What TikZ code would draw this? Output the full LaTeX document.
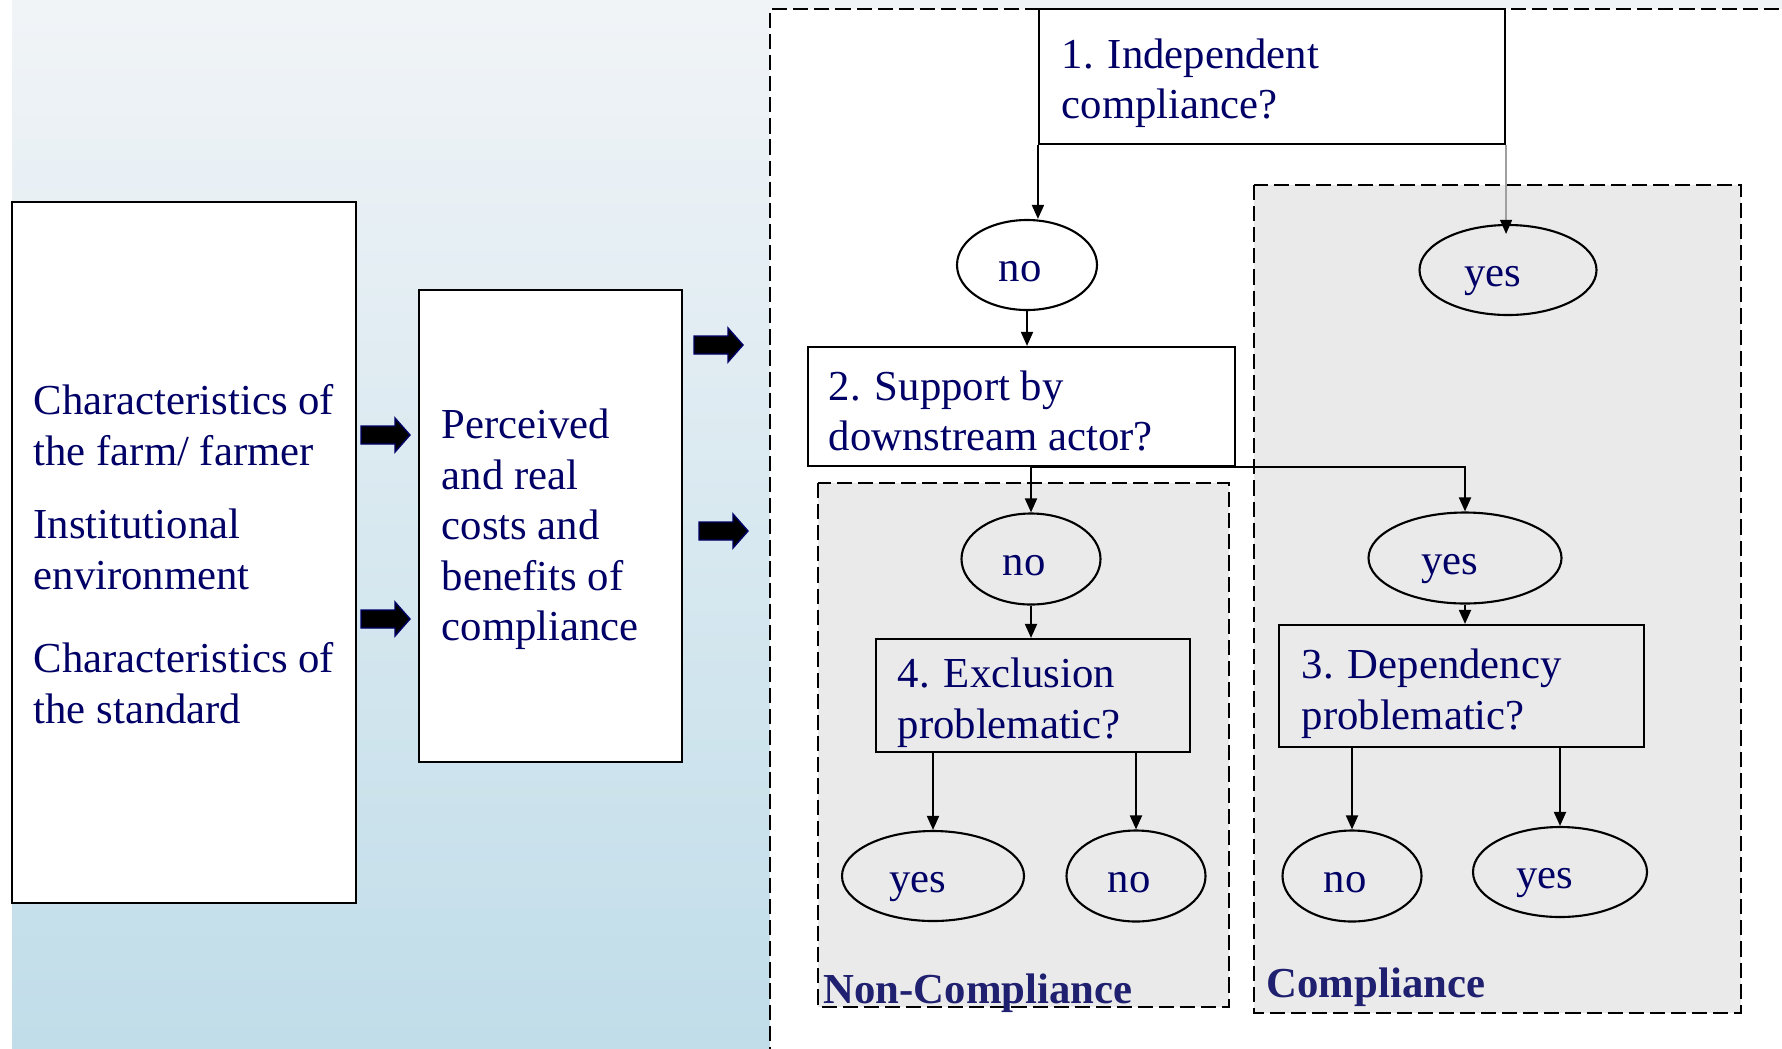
\documentclass[tikz,border=0pt]{standalone}
\usepackage{fontspec}
\setmainfont{Liberation Serif}
\usetikzlibrary{shapes.geometric,arrows.meta,calc}
\definecolor{navy}{RGB}{0,0,102}
\definecolor{lblnavy}{RGB}{32,32,112}
\definecolor{bgtop}{RGB}{241,244,247}
\definecolor{bgbot}{RGB}{192,221,233}
\definecolor{hatch}{RGB}{234,234,234}
\definecolor{thinline}{RGB}{160,160,160}
\newdimen\upx
\upx=0.01cm
\newcommand{\noans}{no\hspace*{14\upx}}
\newcommand{\yesans}{yes\hspace*{30\upx}}
\begin{document}
\begin{tikzpicture}[x=0.01cm,y=-0.01cm,
  txt/.style={font=\fontsize{12.15pt}{14.4pt}\selectfont, text=navy, align=left, anchor=north west, inner sep=0pt},
  boxed/.style={draw=black, line width=0.6pt, fill=white, inner sep=0pt},
  openbox/.style={draw=black, line width=0.6pt, inner sep=0pt},
  ell/.style={ellipse, draw=black, line width=0.6pt, inner sep=0pt, text height=9.5pt, text depth=0pt, font=\fontsize{12.15pt}{14.4pt}\selectfont, text=navy},
  arr/.style={line width=0.6pt, -{Triangle[length=4pt,width=3.4pt,color=black]}},
  zone/.style={draw=black, line width=0.6pt, dash pattern=on 4.3pt off 1.7pt},
  lbl/.style={font=\fontsize{12.15pt}{14.4pt}\selectfont\bfseries, text=lblnavy, anchor=base west, inner sep=0pt},
  blockarrow/.style={fill=black, draw=navy, line width=0.4pt},
  blk/.pic={\filldraw[blockarrow] (0,-9) -- (34,-9) -- (34,-17) -- (49,0) -- (34,17) -- (34,9) -- (0,9) -- cycle;}
]
\useasboundingbox (0,0) rectangle (1782,1048);
% background
\shade[top color=bgtop, bottom color=bgbot] (12,0) rectangle (1782,1048);
\fill[white] (770,9) rectangle (1800,1060);
\draw[zone] (1800,9) -- (770,9) -- (770,1060);
% zones
\draw[zone, fill=hatch] (818,483) rectangle (1229,1007);
\draw[zone, fill=hatch] (1254,185) rectangle (1741,1013);
% left boxes
\node[boxed, minimum width=344\upx, minimum height=701\upx] (left) at (184,552.5) {};
\node[boxed, minimum width=263\upx, minimum height=472\upx] (mid) at (550.5,526) {};
\node[txt] (t1a) at (33,384) {Characteristics of\\the farm/ farmer};
\node[txt] (t1b) at (33,508) {Institutional\\environment};
\node[txt] (t1c) at (33,642) {Characteristics of\\the standard};
\node[txt] (t2) at (441,408) {Perceived\\and real\\costs and\\benefits of\\compliance};
% block arrows
\pic at (361,435) {blk};
\pic at (361,619) {blk};
\pic at (694,345) {blk};
\pic at (699,531) {blk};
% question boxes
\node[boxed, minimum width=466\upx, minimum height=135\upx] (box1) at (1272,76.5) {};
\node[boxed, minimum width=427\upx, minimum height=119\upx] (box2) at (1021.5,406.5) {};
\node[openbox, minimum width=314\upx, minimum height=113\upx] (box4) at (1033,695.5) {};
\node[openbox, minimum width=365\upx, minimum height=122\upx] (box3) at (1461.5,686) {};
\node[txt] (q1t) at (1061,38) {1. Independent\\compliance?};
\node[txt] (q2t) at (828,370) {2. Support by\\downstream actor?};
\node[txt] (q4t) at (897,657) {4. Exclusion\\problematic?};
\node[txt] (q3t) at (1301,648) {3. Dependency\\problematic?};
% answers
\node[ell, minimum width=140\upx, minimum height=90\upx] (no1) at (1027,265) {\noans};
\node[ell, minimum width=177\upx, minimum height=90\upx] (yes1) at (1508,270) {\yesans};
\node[ell, minimum width=139\upx, minimum height=91\upx] (no2) at (1031,559) {\noans};
\node[ell, minimum width=193\upx, minimum height=91\upx] (yes2) at (1465,558) {\yesans};
\node[ell, minimum width=182\upx, minimum height=90\upx] (yes3) at (933,876) {\yesans};
\node[ell, minimum width=139\upx, minimum height=91\upx] (no3) at (1136,876) {\noans};
\node[ell, minimum width=139\upx, minimum height=91\upx] (no4) at (1352,876) {\noans};
\node[ell, minimum width=174\upx, minimum height=90\upx] (yes4) at (1560,872) {\yesans};
% connectors
\draw[arr] (box1.south west) -- (box1.south west |- no1.north);
\draw[arr, draw=thinline, line width=0.4pt] (box1.south east) -- ($(box1.south east |- yes1.north)+(0,10)$);
\draw[arr] (no1.south) -- (no1.south |- box2.north);
\draw[arr] (no2.north |- box2.south) -- (no2.north);
\draw[arr] (no2.north |- box2.south) -| (yes2.north);
\draw[arr] (no2.south) -- (no2.south |- box4.north);
\draw[arr] (yes2.south) -- (yes2.south |- box3.north);
\draw[arr] (yes3.north |- box4.south) -- (yes3.north);
\draw[arr] (no3.north |- box4.south) -- (no3.north);
\draw[arr] (no4.north |- box3.south) -- (no4.north);
\draw[arr] (yes4.north |- box3.south) -- (yes4.north);
% zone labels
\node[lbl] (ncl) at (823,1003) {Non-Compliance};
\node[lbl] (cl) at (1266,997) {Compliance};
\end{tikzpicture}
\end{document}
